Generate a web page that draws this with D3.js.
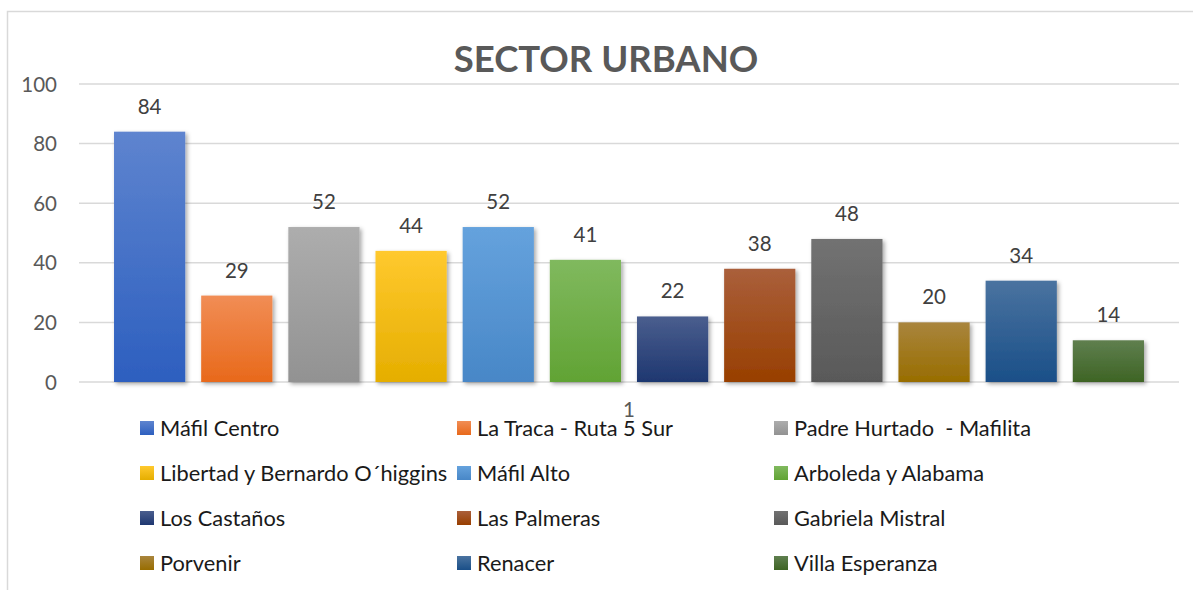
<!DOCTYPE html>
<html><head><meta charset="utf-8">
<script src="https://cdn.jsdelivr.net/npm/d3@7"></script>
<style>html,body{margin:0;padding:0;background:#fff;}svg{display:block;}text{white-space:pre;}</style>
</head><body>
<svg id="chart" width="1193" height="590"></svg>
<script>
const categories = ["1"];
const seriesNames = ["Máfil Centro","La Traca - Ruta 5 Sur","Padre Hurtado  - Mafilita","Libertad y Bernardo O´higgins","Máfil Alto","Arboleda y Alabama","Los Castaños","Las Palmeras","Gabriela Mistral","Porvenir","Renacer","Villa Esperanza"];
const seriesValues = [84,29,52,44,52,41,22,38,48,20,34,14];
const yTicks = [0,20,40,60,80,100];
const colorsTop = ["#5e84cf","#f18d55","#adadad","#ffc92e","#65a2dd","#80b95e","#4a5e8e","#aa5f3b","#727272","#a9853d","#4a73a0","#5f7f4f"];
const colorsBottom = ["#2d5fbf","#e8691b","#929292","#e5ae00","#4887c7","#61a334","#1e3770","#983f00","#595959","#986d00","#1a4f88","#3e6424"];
const titleText = "SECTOR URBANO";

const svg = d3.select("#chart");
const font = "Lato, 'Open Sans', sans-serif";
const defs = svg.append("defs");
seriesNames.forEach((s,i)=>{
  const g = defs.append("linearGradient").attr("id","g"+i).attr("x1",0).attr("y1",0).attr("x2",0).attr("y2",1);
  g.append("stop").attr("offset","0%").attr("stop-color",colorsTop[i]);
  g.append("stop").attr("offset","100%").attr("stop-color",colorsBottom[i]);
});
const f = defs.append("filter").attr("id","shadow").attr("x","-20%").attr("y","-20%").attr("width","140%").attr("height","140%");
f.append("feDropShadow").attr("dx",2).attr("dy",2).attr("stdDeviation",2.2).attr("flood-color","#000").attr("flood-opacity",0.35);

// border
svg.append("path").attr("d","M7.5,590 L7.5,11.5 L1193,11.5").attr("fill","none").attr("stroke","#d9d9d9").attr("stroke-width",1.5);

const plotL = 79, plotR = 1179;
const y = d3.scaleLinear().domain([0,100]).range([382,84]);
const x0 = d3.scaleBand().domain(categories).range([plotL,plotR]).paddingOuter(0.034).paddingInner(0);
const x1 = d3.scaleBand().domain(seriesNames).range([0,x0.bandwidth()]).paddingInner(0.183).paddingOuter(0);

// gridlines
svg.append("g").selectAll("line").data(yTicks).join("line")
  .attr("x1",plotL).attr("x2",plotR).attr("y1",d=>y(d)).attr("y2",d=>y(d))
  .attr("stroke","#d9d9d9").attr("stroke-width",1.5);

// y axis labels
const yAxis = d3.axisLeft(y).tickValues(yTicks).tickSize(0).tickPadding(0);
const ya = svg.append("g").attr("transform","translate(57,0)").call(yAxis);
ya.select(".domain").remove();
ya.selectAll("text").attr("font-family",font).attr("font-size",20.5).attr("fill","#595959").attr("dy","0.35em");

// title
svg.append("text").attr("x",606).attr("y",72).attr("text-anchor","middle")
  .attr("font-family",font).attr("font-weight","bold").attr("font-size",36.5).attr("fill","#595959").text(titleText);

// bars
const data = seriesNames.map((s,i)=>({name:s,value:seriesValues[i],i}));
const grp = svg.append("g").selectAll("g").data(categories).join("g").attr("transform",d=>`translate(${x0(d)},0)`);
grp.selectAll("rect").data(data).join("rect")
  .attr("x",d=>x1(d.name)).attr("width",x1.bandwidth())
  .attr("y",d=>y(d.value)).attr("height",d=>y(0)-y(d.value))
  .attr("fill",d=>`url(#g${d.i})`).attr("filter","url(#shadow)");
grp.selectAll("text").data(data).join("text")
  .attr("x",d=>x1(d.name)+x1.bandwidth()/2).attr("y",d=>y(d.value)-18)
  .attr("text-anchor","middle").attr("font-family",font).attr("font-size",20.5).attr("fill","#404040")
  .text(d=>d.value);

// category axis
const xAxis = d3.axisBottom(x0).tickSize(0).tickPadding(0);
const xa = svg.append("g").attr("transform","translate(0,402)").call(xAxis);
xa.select(".domain").remove();
xa.selectAll("text").attr("font-family",font).attr("font-size",20.5).attr("fill","#595959").attr("dy","0.71em");

// legend
const colX = [140,457,774];
const rowY = [428,473,518,563];
const leg = svg.append("g").selectAll("g").data(data).join("g")
  .attr("transform",(d,i)=>`translate(${colX[i%3]},${rowY[Math.floor(i/3)]})`);
leg.append("rect").attr("x",0).attr("y",-7).attr("width",14).attr("height",14).attr("fill",d=>`url(#g${d.i})`);
leg.append("text").attr("x",20).attr("y",0).attr("dy","0.35em").attr("font-family",font).attr("font-size",21.8).attr("fill","#1a1a1a").text(d=>d.name);
</script>
</body></html>
